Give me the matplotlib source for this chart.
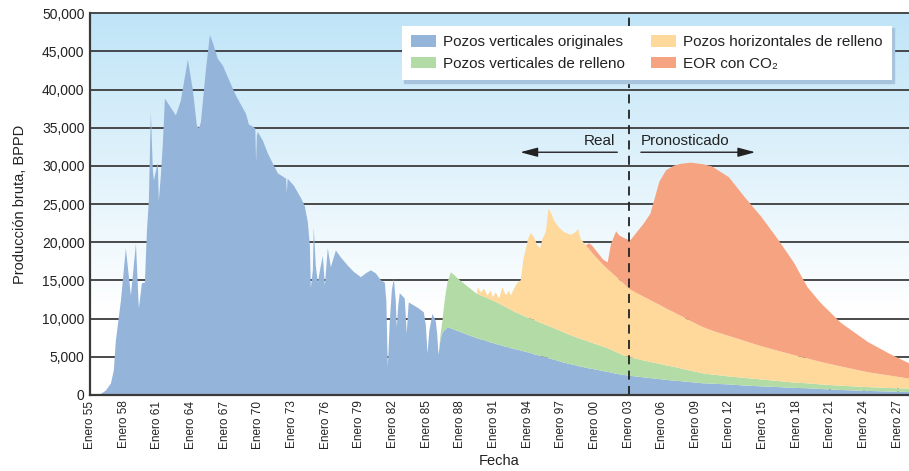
import numpy as np
import matplotlib
matplotlib.use("Agg")
import matplotlib.pyplot as plt
from matplotlib import font_manager

# ---------------------------------------------------------------------------
# Data: crude production (BPPD) by source
# ---------------------------------------------------------------------------
# Original vertical wells, historical period before the infill programs
years_hist = [
    1955.0, 1955.93, 1956.37, 1956.82, 1957.08, 1957.26, 1957.71, 1958.15, 1958.6, 1959.05,
    1959.31, 1959.58, 1959.85, 1960.03, 1960.2, 1960.38, 1960.56, 1960.65, 1961.0, 1961.09,
    1961.27, 1961.45, 1961.63, 1962.61, 1963.05, 1963.68, 1964.12, 1964.48, 1964.66, 1964.84,
    1965.28, 1965.64, 1965.91, 1966.35, 1966.8, 1967.24, 1967.96, 1968.86, 1969.12, 1969.48,
    1969.69, 1969.76, 1969.83, 1969.92, 1970.36, 1970.81, 1971.25, 1971.7, 1972.23, 1972.44,
    1972.5, 1972.57, 1973.12, 1973.75, 1974.1, 1974.37, 1974.55, 1974.64, 1974.82, 1974.9,
    1975.08, 1975.26, 1975.53, 1975.71, 1975.89, 1976.15, 1976.42, 1976.87, 1977.31, 1977.94,
    1978.47, 1979.1, 1979.54, 1979.99, 1980.43, 1980.88, 1981.23, 1981.37, 1981.5, 1981.68,
    1981.86, 1982.04, 1982.21, 1982.3, 1982.43, 1982.57, 1983.01, 1983.1, 1983.19, 1983.28,
    1983.37, 1983.82, 1984.26, 1984.71, 1984.89, 1985.04, 1985.2, 1985.48, 1985.78, 1985.91,
]
originales_hist = [
    0, 200, 650, 1570, 3300, 7200, 12400, 19250, 13100, 19900,
    11400, 14700, 14800, 21600, 25500, 37100, 29500, 28200, 30500, 25500,
    28800, 33000, 38900, 36700, 38600, 44000, 40000, 35400, 35000, 35800,
    42600, 47200, 46200, 44100, 43200, 41700, 39300, 36900, 35500, 35200,
    35000, 30500, 34100, 34500, 33400, 31700, 30400, 29100, 28600, 28400,
    26500, 28400, 27500, 25900, 24800, 22700, 19700, 14100, 16400, 22000,
    17000, 14800, 17000, 18300, 14400, 19300, 16800, 19000, 18100, 17000,
    16200, 15500, 16000, 16400, 16000, 15100, 14800, 12400, 3700, 9800,
    13800, 15300, 12400, 8900, 11800, 13400, 12700, 10500, 8100, 10500,
    12200, 11800, 11400, 10900, 9200, 5500, 8500, 10700, 9700, 7900,
]

# Common timeline for the four sources from 1986 onwards
years = [
    1986.02, 1986.2, 1986.37, 1986.52, 1986.67, 1986.82, 1987.12, 1988.0, 1989.45, 1989.5,
    1989.79, 1990.08, 1990.38, 1990.68, 1990.83, 1991.12, 1991.42, 1991.72, 1992.01, 1992.31,
    1992.46, 1992.75, 1993.06, 1993.35, 1993.59, 1993.8, 1994.0, 1994.24, 1994.54, 1994.84,
    1995.07, 1995.28, 1995.58, 1995.82, 1996.02, 1996.32, 1996.76, 1997.21, 1997.81, 1998.25,
    1998.46, 1998.7, 1999.15, 1999.43, 1999.7, 2000.7, 2001.1, 2001.4, 2001.85, 2002.15,
    2002.6, 2003.1, 2003.7, 2004.3, 2004.9, 2005.4, 2005.7, 2006.3, 2007.0, 2007.6,
    2008.5, 2009.6, 2010.4, 2011.9, 2013.3, 2014.8, 2016.3, 2017.7, 2018.9, 2020.1,
    2021.9, 2024.3, 2026.3, 2028.0,
]
verticales_originales = [
    5300, 7400, 8200, 8500, 8700, 8950, 8800, 8300, 7500, 7500,
    7350, 7250, 7100, 6950, 6900, 6750, 6650, 6500, 6400, 6300,
    6200, 6100, 6000, 5900, 5800, 5700, 5650, 5550, 5400, 5300,
    5200, 5100, 5000, 4900, 4800, 4700, 4500, 4300, 4100, 3950,
    3850, 3800, 3650, 3550, 3500, 3200, 3100, 3000, 2850, 2780,
    2680, 2580, 2480, 2380, 2280, 2200, 2150, 2050, 1950, 1880,
    1750, 1600, 1550, 1450, 1300, 1200, 1100, 1000, 950, 850,
    720, 600, 520, 450,
]
verticales_relleno = [
    0, 600, 1600, 3300, 4800, 5850, 7350, 6700, 5800, 5800,
    5750, 5700, 5650, 5600, 5550, 5500, 5400, 5300, 5200, 5050,
    5050, 4900, 4800, 4700, 4650, 4600, 4550, 4500, 4500, 4400,
    4350, 4350, 4250, 4200, 4200, 4100, 4050, 3950, 3800, 3700,
    3650, 3600, 3550, 3500, 3400, 3200, 3100, 3000, 2850, 2720,
    2520, 2420, 2320, 2220, 2120, 2050, 2000, 1900, 1800, 1670,
    1500, 1300, 1200, 1050, 1000, 900, 800, 700, 650, 600,
    560, 500, 460, 450,
]
horizontales_relleno = [
    0, 0, 0, 0, 0, 0, 0, 0, 0, 900,
    400, 1050, 350, 1200, 450, 1250, 650, 2400, 1500, 2400,
    1850, 3000, 4000, 4500, 7450, 8900, 10300, 11250, 10800, 9950,
    9750, 11050, 12150, 15350, 15000, 14100, 13450, 13150, 13150, 13750,
    14300, 13100, 12450, 12150, 11800, 10700, 10350, 10150, 9850, 9650,
    9350, 8900, 8600, 8350, 8100, 7850, 7750, 7450, 7150, 6900,
    6500, 6050, 5750, 5300, 4850, 4350, 3950, 3600, 3250, 2950,
    2520, 1950, 1620, 1300,
]
eor_co2 = [
    0, 0, 0, 0, 0, 0, 0, 0, 0, 0,
    0, 0, 0, 0, 0, 0, 0, 0, 0, 0,
    0, 0, 0, 0, 0, 0, 0, 0, 0, 0,
    0, 0, 0, 0, 0, 0, 0, 0, 0, 0,
    0, 0, 0, 750, 950, 700, 900, 3750, 5950, 5800,
    6050, 6400, 8000, 9550, 11300, 14300, 16100, 18100, 19200, 19900,
    20750, 21350, 21500, 20800, 18850, 16950, 14550, 12100, 9350, 7700,
    5700, 3950, 2800, 2000,
]

series_labels = [
    "Pozos verticales originales",
    "Pozos verticales de relleno",
    "Pozos horizontales de relleno",
    "EOR con CO\u2082",
]
series_colors = ["#95b4da", "#b3dba5", "#fed99b", "#f6a382"]

tick_years = [1955, 1958, 1961, 1964, 1967, 1970, 1973, 1976, 1979, 1982, 1985, 1988,
              1991, 1994, 1997, 2000, 2003, 2006, 2009, 2012, 2015, 2018, 2021, 2024, 2027]
tick_labels = ["Enero 55", "Enero 58", "Enero 61", "Enero 64", "Enero 67", "Enero 70",
               "Enero 73", "Enero 76", "Enero 79", "Enero 82", "Enero 85", "Enero 88",
               "Enero 91", "Enero 94", "Enero 97", "Enero 00", "Enero 03", "Enero 06",
               "Enero 09", "Enero 12", "Enero 15", "Enero 18", "Enero 21", "Enero 24",
               "Enero 27"]
y_ticks = [0, 5000, 10000, 15000, 20000, 25000, 30000, 35000, 40000, 45000, 50000]
forecast_start = 2003

# ---------------------------------------------------------------------------
# Fonts
# ---------------------------------------------------------------------------
installed = {f.name for f in font_manager.fontManager.ttflist}
REG = ["Liberation Sans", "DejaVu Sans"]
NARROW = (["Liberation Sans Narrow"] if "Liberation Sans Narrow" in installed else []) + REG

# ---------------------------------------------------------------------------
# Figure
# ---------------------------------------------------------------------------
fig = plt.figure(figsize=(9.09, 4.71), dpi=100)
ax = fig.add_axes([90 / 909, 76 / 471, 819 / 909, 381.7 / 471])
x0, x1 = 1955, 2028
ax.set_xlim(x0, x1)
ax.set_ylim(0, 50000)

# sky-blue to white background gradient
n = 256
frac = np.linspace(1, 0, n)  # top -> bottom
t = np.clip((frac - 0.22) / 0.78, 0, 1)[:, None]
top = np.array([0.75, 0.895, 0.97])
white = np.array([1.0, 1.0, 1.0])
grad = (white + (top - white) * t)[:, None, :]
ax.imshow(grad, extent=[x0, x1, 0, 50000], aspect="auto", zorder=0, interpolation="bilinear")

# horizontal grid
for yv in y_ticks[1:]:
    ax.axhline(yv, color="#3c3c3c", lw=1.3, zorder=1, clip_on=False)

# stacked areas
yh = np.array(years_hist)
yl = np.array(years)
b = np.array(verticales_originales, dtype=float)
g = np.array(verticales_relleno, dtype=float)
h = np.array(horizontales_relleno, dtype=float)
e = np.array(eor_co2, dtype=float)

all_years = np.concatenate([yh, yl])
all_blue = np.concatenate([np.array(originales_hist, dtype=float), b])
ax.fill_between(all_years, 0, all_blue, color=series_colors[0], lw=0, zorder=2)
ax.fill_between(yl, b, b + g, color=series_colors[1], lw=0, zorder=2)
ax.fill_between(yl, b + g, b + g + h, color=series_colors[2], lw=0, zorder=2)
ax.fill_between(yl, b + g + h, b + g + h + e, color=series_colors[3], lw=0, zorder=2)

# boundary between actual data and forecast
ax.axvline(forecast_start, color="#222222", lw=1.3, ls=(0, (5, 3.5)), zorder=3)

arrow_y = 31800
arrow_style = "-|>,head_length=0.75,head_width=0.2"
ax.annotate("", xy=(1993.35, arrow_y), xytext=(2002.0, arrow_y),
            arrowprops=dict(arrowstyle=arrow_style, color="#222222", lw=1.0,
                            mutation_scale=14, shrinkA=0, shrinkB=0), zorder=4)
ax.annotate("", xy=(2014.3, arrow_y), xytext=(2004.1, arrow_y),
            arrowprops=dict(arrowstyle=arrow_style, color="#222222", lw=1.0,
                            mutation_scale=14, shrinkA=0, shrinkB=0), zorder=4)
ax.text(2001.8, 33300, "Real", ha="right", va="center", fontsize=11,
        family=REG, color="#222222", zorder=4)
ax.text(2004.1, 33300, "Pronosticado", ha="left", va="center", fontsize=11,
        family=REG, color="#222222", zorder=4)

# axes styling
for side in ("top", "right"):
    ax.spines[side].set_visible(False)
for side in ("left", "bottom"):
    ax.spines[side].set_color("#3a3a3a")
    ax.spines[side].set_linewidth(1.6)
    ax.spines[side].set_zorder(5)

ax.set_yticks(y_ticks)
ax.set_yticklabels([f"{v:,}" for v in y_ticks], family=REG, fontsize=10, color="#222222")
ax.tick_params(axis="y", length=0, pad=4)

ax.set_xticks(tick_years)
ax.set_xticklabels(tick_labels, rotation=90, family=NARROW, fontsize=8.5, color="#222222")
ax.tick_params(axis="x", direction="in", length=5, width=1.3, color="#3a3a3a", pad=4)

ax.set_ylabel("Producci\u00f3n bruta, BPPD", family=NARROW, fontsize=10.5, color="#222222")
ax.yaxis.set_label_coords(-0.077, 0.5)
ax.set_xlabel("Fecha", family=REG, fontsize=10.5, color="#222222")
ax.xaxis.set_label_coords(0.5, -0.155)

# legend
handles = [plt.Rectangle((0, 0), 1, 1, color=c, lw=0) for c in series_colors]
leg = ax.legend(handles, series_labels, ncols=2, loc="upper left",
                bbox_to_anchor=((401.7 - 90) / 819, (395 - 25.7) / 381.7),
                borderaxespad=0, frameon=True, fancybox=False,
                shadow={"color": "#a8c4dc", "alpha": 1.0},
                prop={"family": REG, "size": 11},
                handlelength=1.63, handleheight=0.8, handletextpad=0.45,
                columnspacing=1.75, labelspacing=0.5, borderpad=0.6)
leg.get_frame().set_facecolor("white")
leg.get_frame().set_edgecolor("none")
leg.set_zorder(6)
for txt in leg.get_texts():
    txt.set_color("#222222")

fig.savefig("out.png", dpi=100)
